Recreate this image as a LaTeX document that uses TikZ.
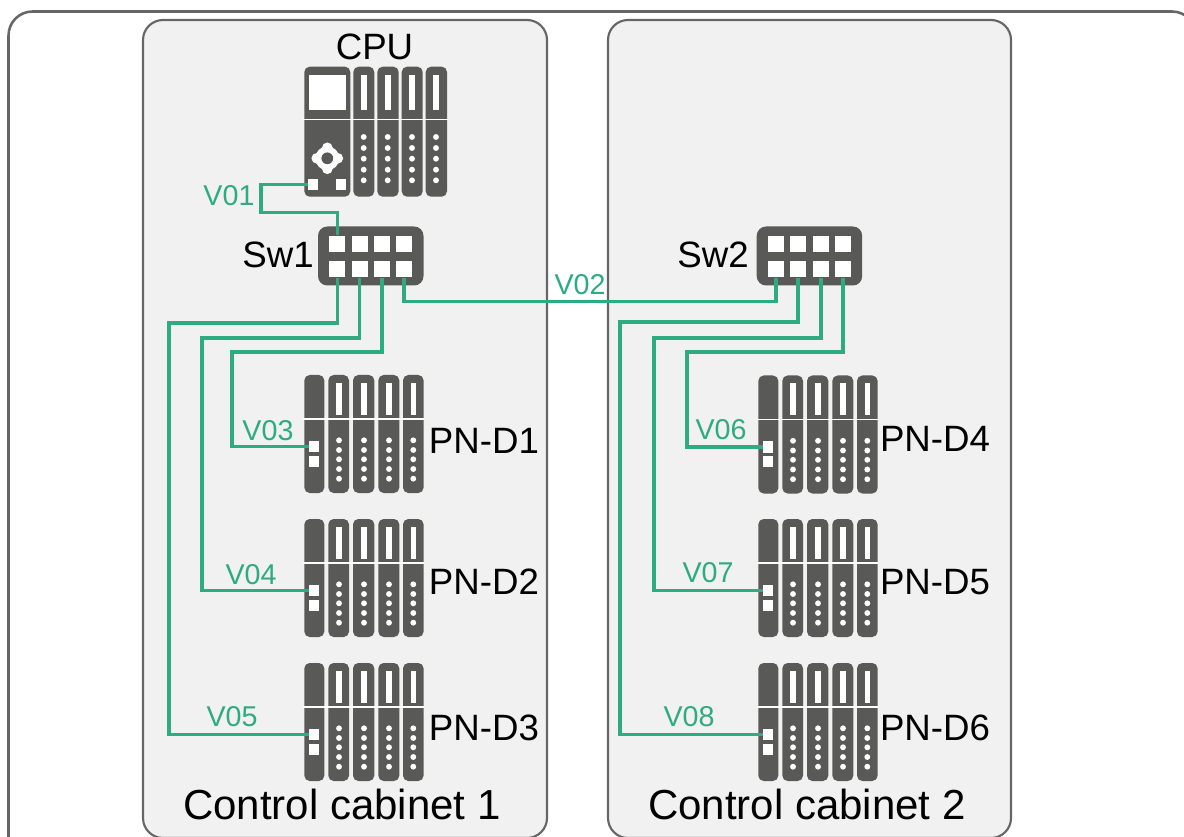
\documentclass[tikz,border=0pt]{standalone}
\usepackage{fontspec}
\setmainfont{Liberation Sans}
\usetikzlibrary{calc}
\definecolor{linkgreen}{HTML}{2EAB80}
\definecolor{devgray}{HTML}{595958}
\definecolor{panelgray}{HTML}{F1F1F1}
\definecolor{edgegray}{HTML}{666666}
\tikzset{
    % ports are small white boxes
    portbox/.style={fill=white, inner sep=0pt, minimum width=7.5pt, minimum height=8.4pt},
    swport/.style={fill=white, inner sep=0pt, minimum width=12pt, minimum height=12.2pt},
    link/.style={line width=2.7pt, linkgreen},
    cabinet/.style={line width=1.6pt, edgegray, fill=panelgray, rounded corners=15pt},
    bigtext/.style={font=\fontsize{31.5}{34}\selectfont, black, inner sep=0pt},
    devtext/.style={font=\fontsize{27.5}{30}\selectfont, black, inner sep=0pt},
    vtext/.style={font=\fontsize{21.5}{24}\selectfont, linkgreen, inner sep=0pt},
    iodevice/.pic={
        \foreach \xa/\xb in {0/20,24/44.7,48.7/70,74/95,98.7/119.3}
            \fill[devgray, rounded corners=4pt] (\xa,0) rectangle (\xb,118);
        \draw[white, line width=0.9pt] (-1,44) -- (120,44);
        \foreach \xs in {34.7,59.7,84.7,109} {
            \fill[white] (\xs-2.8,8) rectangle (\xs+2.8,40);
            \foreach \ys in {65.3,75,84.3,94,103.7}
                \fill[white] (\xs,\ys) circle (2.2pt);
        }
        \node[portbox] (port) at (10,71.5) {};
        \node[portbox] (portb) at (10,86.2) {};
    },
    cpudevice/.pic={
        \foreach \xa/\xb in {0/46,49/70,73/94.4,97.4/118.4,121.4/142.7}
            \fill[devgray, rounded corners=4pt] (\xa,0) rectangle (\xb,130);
        \draw[white, line width=0.9pt] (-1,52.6) -- (144,52.6);
        \fill[white] (5,8.3) rectangle (41.4,43.3);
        \foreach \xs in {59.4,83.4,107.7,131.7} {
            \fill[white] (\xs-3,8.3) rectangle (\xs+3,43.3);
            \foreach \ys in {70.3,81.3,92,103,113.6}
                \fill[white] (\xs,\ys) circle (2.2pt);
        }
        % round knob with four lobes
        \fill[white] (23,91.6) circle (9pt);
        \foreach \ang in {0,90,180,270}
            \fill[white] (23,91.6) ++(\ang:10.5) circle (4pt);
        \fill[devgray] (23,91.6) circle (4.4pt);
        \node[portbox] (port) at (9,118) {};
        \node[portbox] (portb) at (36.2,118) {};
    },
    netswitch/.pic={
        \fill[devgray, rounded corners=7pt] (0,0) rectangle (105.5,59);
        \foreach \i/\xs in {1/19.3,2/41.5,3/64,4/86} {
            \node[swport] (t\i) at (\xs,17.2) {};
            \node[swport] (b\i) at (\xs,42.7) {};
        }
    }
}
\begin{document}
\begin{tikzpicture}[x=0.75pt,y=-0.75pt]
    \path[clip, use as bounding box] (0,0) rectangle (1184,837);

    % outer frame and the two cabinets
    \draw[line width=1.9pt, edgegray, rounded corners=18pt] (8.5,11.5) rectangle (1196,900);
    \draw[cabinet] (143,20) rectangle (547,838);
    \draw[cabinet] (608,20) rectangle (1011,838);

    % devices
    \pic (cpu) at (304.3,66.7) {cpudevice};
    \pic (sw1) at (318,226.5) {netswitch};
    \pic (sw2) at (756.7,226.5) {netswitch};
    \pic (d1) at (304.3,375) {iodevice};
    \pic (d2) at (304.3,519) {iodevice};
    \pic (d3) at (304.3,663) {iodevice};
    \pic (d4) at (758.3,375.5) {iodevice};
    \pic (d5) at (758.3,519) {iodevice};
    \pic (d6) at (758.3,663) {iodevice};

    % bend points of the green lines
    \path
    (260.7,212.7) coordinate (v01a)
    (404.7,301.5) coordinate (v02a)
    (169,323) coordinate (v05a)
    (202,338) coordinate (v04a)
    (232,352) coordinate (v03a)
    (620,322) coordinate (v08a)
    (654,338) coordinate (v07a)
    (687,352) coordinate (v06a);

    % green lines
    \draw[link] (cpuport.west) -| (v01a) -| (sw1t1.north);
    \draw[link] (sw1b4.south) |- (v02a) -| (sw2b1.south);
    \draw[link] (sw1b1.south) |- (v05a) |- (d3port.west);
    \draw[link] (sw1b2.south) |- (v04a) |- (d2port.west);
    \draw[link] (sw1b3.south) |- (v03a) |- (d1port.west);
    \draw[link] (sw2b2.south) |- (v08a) |- (d6port.west);
    \draw[link] (sw2b3.south) |- (v07a) |- (d5port.west);
    \draw[link] (sw2b4.south) |- (v06a) |- (d4port.west);

    % labels
    \node[devtext] (cpulabel) at (374.5,46.5) {CPU};
    \node[devtext] (sw1label) at (278,255) {Sw1};
    \node[devtext] (sw2label) at (713,255) {Sw2};
    \node[devtext] (d1label) at (484,441) {PN-D1};
    \node[devtext] (d2label) at (484,582) {PN-D2};
    \node[devtext] (d3label) at (484,728) {PN-D3};
    \node[devtext] (d4label) at (935,439) {PN-D4};
    \node[devtext] (d5label) at (935,582) {PN-D5};
    \node[devtext] (d6label) at (935,728) {PN-D6};
    \node[bigtext] (cab1label) at (342,804) {Control cabinet 1};
    \node[bigtext] (cab2label) at (807,804) {Control cabinet 2};
    \node[vtext] (v01) at (229,196) {V01};
    \node[vtext] (v02) at (580,285) {V02};
    \node[vtext] (v03) at (268,431) {V03};
    \node[vtext] (v04) at (251,575) {V04};
    \node[vtext] (v05) at (232,717) {V05};
    \node[vtext] (v06) at (721,430) {V06};
    \node[vtext] (v07) at (708,573) {V07};
    \node[vtext] (v08) at (689,717) {V08};
\end{tikzpicture}
\end{document}
